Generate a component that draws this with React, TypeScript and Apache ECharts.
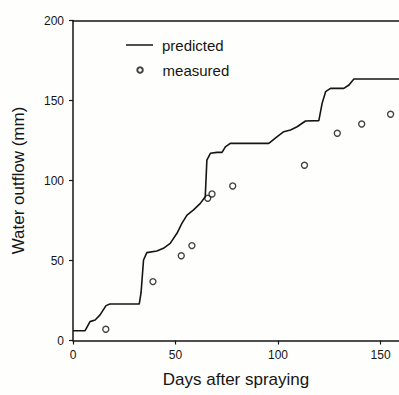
import React, { useEffect, useRef } from "react";
import * as echarts from "echarts";

const predictedDays = [0, 5.9, 8.3, 10.8, 13.2, 16.1, 18, 32.3, 33.2, 34.4, 36, 40.9, 44.1, 47.4, 50.7, 53.1, 55.6, 58.8, 62.1, 64.5, 65.3, 67, 70.2, 72.7, 74.3, 76.7, 95.5, 99.6, 102.8, 106.1, 109.3, 113.4, 119.9, 121.5, 123.2, 125.6, 132.1, 134.6, 137, 159];
const predictedOutflow = [6.1, 6.1, 11.8, 12.8, 16, 21.8, 22.8, 22.8, 30, 50.3, 54.9, 55.9, 57.6, 60.7, 67, 73.2, 78.4, 81.6, 85.7, 89.9, 112.8, 117, 117.6, 117.6, 121, 123.2, 123.2, 127.4, 130.5, 131.6, 133.6, 137.2, 137.4, 148.2, 155.5, 157.6, 157.6, 159.7, 163.4, 163.4];
const measuredDays = [16, 39, 52.8, 58, 65.7, 67.8, 77.9, 112.9, 128.9, 140.8, 154.9];
const measuredOutflow = [7, 36.8, 53, 59.3, 88.9, 91.6, 96.6, 109.5, 129.5, 135.3, 141.4];
const xTicks = [0, 50, 100, 150];
const yTicks = [0, 50, 100, 150, 200];

const FONT = "'Liberation Sans', Arial, Helvetica, sans-serif";
const INK = "#151515";

const legendText = {
  fontSize: 15,
  color: INK,
  fontFamily: FONT,
  lineHeight: 16,
  padding: [0, 0, 0, 4],
};

export default function App() {
  const ref = useRef<HTMLDivElement>(null);
  useEffect(() => {
    if (!ref.current) return;
    const chart = echarts.init(ref.current, null, { renderer: "svg" });
    const predicted = predictedDays.map((d, i) => [d, predictedOutflow[i]]);
    const measured = measuredDays.map((d, i) => [d, measuredOutflow[i]]);
    chart.setOption({
      animation: false,
      backgroundColor: "#fefefc",
      textStyle: { fontFamily: FONT },
      grid: { left: 73, right: 0, top: 20.5, bottom: 54.5, containLabel: false },
      legend: [
        {
          data: [{ name: "predicted", icon: "rect" }],
          orient: "vertical",
          left: 126,
          top: 37,
          padding: 0,
          itemWidth: 27,
          itemHeight: 1.5,
          itemStyle: { color: INK },
          textStyle: legendText,
        },
        {
          data: ["measured"],
          orient: "vertical",
          left: 136.3,
          top: 62,
          padding: 0,
          itemWidth: 27,
          itemHeight: 5.5,
          textStyle: legendText,
        },
      ],
      xAxis: [
        {
          type: "value",
          min: 0,
          max: 159,
          interval: 50,
          name: "Days after spraying",
          nameLocation: "middle",
          nameGap: 30,
          nameTextStyle: { fontSize: 17, color: INK, fontFamily: FONT },
          axisLine: { show: true, onZero: false, lineStyle: { color: INK, width: 1.5 } },
          axisTick: { show: true, inside: false, length: 4, lineStyle: { color: INK, width: 1.2 } },
          axisLabel: {
            margin: 8,
            fontSize: 12,
            color: INK,
            fontFamily: FONT,
            showMaxLabel: false,
            formatter: (v: number) => (xTicks.includes(v) ? String(v) : ""),
          },
          splitLine: { show: false },
        },
        {
          type: "value",
          position: "top",
          min: 0,
          max: 159,
          interval: 50,
          axisLine: { show: true, onZero: false, lineStyle: { color: INK, width: 1.5 } },
          axisTick: { show: false },
          axisLabel: { show: false },
          splitLine: { show: false },
        },
      ],
      yAxis: {
        type: "value",
        min: 0,
        max: 200,
        interval: 50,
        name: "Water outflow (mm)",
        nameLocation: "middle",
        nameGap: 46,
        nameTextStyle: { fontSize: 17, color: INK, fontFamily: FONT },
        axisLine: { show: true, onZero: false, lineStyle: { color: INK, width: 1.5 } },
        axisTick: { show: true, inside: false, length: 4, lineStyle: { color: INK, width: 1.2 } },
        axisLabel: {
          margin: 9,
          fontSize: 12,
          color: INK,
          fontFamily: FONT,
          formatter: (v: number) => (yTicks.includes(v) ? String(v) : ""),
        },
        splitLine: { show: false },
      },
      series: [
        {
          name: "predicted",
          type: "line",
          data: predicted,
          symbol: "none",
          lineStyle: { color: INK, width: 1.6 },
          itemStyle: { color: INK },
        },
        {
          name: "measured",
          type: "scatter",
          data: measured,
          symbol: "circle",
          symbolSize: 6,
          itemStyle: { color: "#ffffff", borderColor: INK, borderWidth: 1.4 },
        },
      ],
    });
    return () => chart.dispose();
  }, []);
  return (
    <div
      ref={ref}
      style={{ position: "fixed", left: 0, top: 0, width: 399, height: 395 }}
    />
  );
}
